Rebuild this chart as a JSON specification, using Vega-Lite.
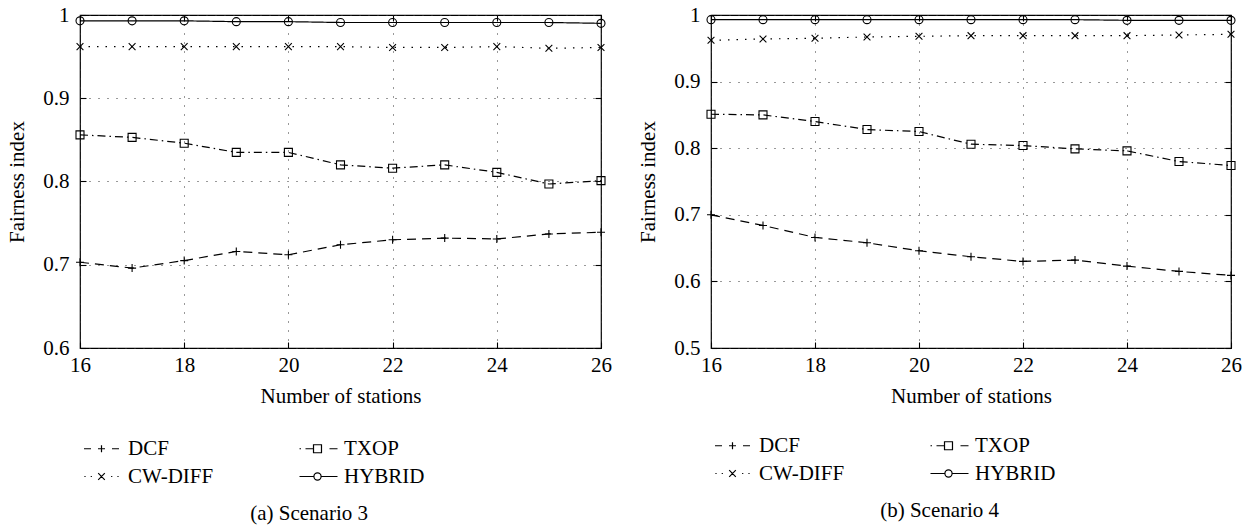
{
  "$schema": "https://vega.github.io/schema/vega-lite/v6.json",
  "background": "white",
  "padding": {"top": 3, "left": 6, "right": 10, "bottom": 2},
  "datasets": {
    "s3": [
      {"n": 16, "series": "DCF", "v": 0.703}, {"n": 17, "series": "DCF", "v": 0.696}, {"n": 18, "series": "DCF", "v": 0.705}, {"n": 19, "series": "DCF", "v": 0.716}, {"n": 20, "series": "DCF", "v": 0.712}, {"n": 21, "series": "DCF", "v": 0.724}, {"n": 22, "series": "DCF", "v": 0.730}, {"n": 23, "series": "DCF", "v": 0.732}, {"n": 24, "series": "DCF", "v": 0.731}, {"n": 25, "series": "DCF", "v": 0.737}, {"n": 26, "series": "DCF", "v": 0.739},
      {"n": 16, "series": "TXOP", "v": 0.856}, {"n": 17, "series": "TXOP", "v": 0.853}, {"n": 18, "series": "TXOP", "v": 0.846}, {"n": 19, "series": "TXOP", "v": 0.835}, {"n": 20, "series": "TXOP", "v": 0.835}, {"n": 21, "series": "TXOP", "v": 0.820}, {"n": 22, "series": "TXOP", "v": 0.816}, {"n": 23, "series": "TXOP", "v": 0.820}, {"n": 24, "series": "TXOP", "v": 0.811}, {"n": 25, "series": "TXOP", "v": 0.797}, {"n": 26, "series": "TXOP", "v": 0.801},
      {"n": 16, "series": "CW-DIFF", "v": 0.962}, {"n": 17, "series": "CW-DIFF", "v": 0.962}, {"n": 18, "series": "CW-DIFF", "v": 0.962}, {"n": 19, "series": "CW-DIFF", "v": 0.962}, {"n": 20, "series": "CW-DIFF", "v": 0.962}, {"n": 21, "series": "CW-DIFF", "v": 0.962}, {"n": 22, "series": "CW-DIFF", "v": 0.961}, {"n": 23, "series": "CW-DIFF", "v": 0.961}, {"n": 24, "series": "CW-DIFF", "v": 0.962}, {"n": 25, "series": "CW-DIFF", "v": 0.960}, {"n": 26, "series": "CW-DIFF", "v": 0.961},
      {"n": 16, "series": "HYBRID", "v": 0.993}, {"n": 17, "series": "HYBRID", "v": 0.993}, {"n": 18, "series": "HYBRID", "v": 0.993}, {"n": 19, "series": "HYBRID", "v": 0.992}, {"n": 20, "series": "HYBRID", "v": 0.992}, {"n": 21, "series": "HYBRID", "v": 0.991}, {"n": 22, "series": "HYBRID", "v": 0.991}, {"n": 23, "series": "HYBRID", "v": 0.991}, {"n": 24, "series": "HYBRID", "v": 0.991}, {"n": 25, "series": "HYBRID", "v": 0.991}, {"n": 26, "series": "HYBRID", "v": 0.990}
    ],
    "s4": [
      {"n": 16, "series": "DCF", "v": 0.700}, {"n": 17, "series": "DCF", "v": 0.684}, {"n": 18, "series": "DCF", "v": 0.666}, {"n": 19, "series": "DCF", "v": 0.658}, {"n": 20, "series": "DCF", "v": 0.646}, {"n": 21, "series": "DCF", "v": 0.637}, {"n": 22, "series": "DCF", "v": 0.630}, {"n": 23, "series": "DCF", "v": 0.632}, {"n": 24, "series": "DCF", "v": 0.623}, {"n": 25, "series": "DCF", "v": 0.615}, {"n": 26, "series": "DCF", "v": 0.609},
      {"n": 16, "series": "TXOP", "v": 0.851}, {"n": 17, "series": "TXOP", "v": 0.850}, {"n": 18, "series": "TXOP", "v": 0.840}, {"n": 19, "series": "TXOP", "v": 0.828}, {"n": 20, "series": "TXOP", "v": 0.825}, {"n": 21, "series": "TXOP", "v": 0.806}, {"n": 22, "series": "TXOP", "v": 0.804}, {"n": 23, "series": "TXOP", "v": 0.799}, {"n": 24, "series": "TXOP", "v": 0.796}, {"n": 25, "series": "TXOP", "v": 0.780}, {"n": 26, "series": "TXOP", "v": 0.774},
      {"n": 16, "series": "CW-DIFF", "v": 0.962}, {"n": 17, "series": "CW-DIFF", "v": 0.964}, {"n": 18, "series": "CW-DIFF", "v": 0.965}, {"n": 19, "series": "CW-DIFF", "v": 0.967}, {"n": 20, "series": "CW-DIFF", "v": 0.968}, {"n": 21, "series": "CW-DIFF", "v": 0.969}, {"n": 22, "series": "CW-DIFF", "v": 0.969}, {"n": 23, "series": "CW-DIFF", "v": 0.969}, {"n": 24, "series": "CW-DIFF", "v": 0.969}, {"n": 25, "series": "CW-DIFF", "v": 0.970}, {"n": 26, "series": "CW-DIFF", "v": 0.971},
      {"n": 16, "series": "HYBRID", "v": 0.993}, {"n": 17, "series": "HYBRID", "v": 0.993}, {"n": 18, "series": "HYBRID", "v": 0.993}, {"n": 19, "series": "HYBRID", "v": 0.993}, {"n": 20, "series": "HYBRID", "v": 0.993}, {"n": 21, "series": "HYBRID", "v": 0.993}, {"n": 22, "series": "HYBRID", "v": 0.993}, {"n": 23, "series": "HYBRID", "v": 0.993}, {"n": 24, "series": "HYBRID", "v": 0.992}, {"n": 25, "series": "HYBRID", "v": 0.992}, {"n": 26, "series": "HYBRID", "v": 0.992}
    ]
  },
  "hconcat": [
    {
      "width": 521, "height": 333,
      "data": {"name": "s3"},
      "title": {"text": "(a) Scenario 3", "orient": "bottom", "offset": 16, "anchor": "middle", "frame": "bounds"},
      "layer": [
        {
          "mark": {"type": "line", "color": "black", "strokeWidth": 1.2},
          "encoding": {
            "x": {"field": "n", "type": "quantitative", "scale": {"domain": [16, 26], "nice": false},
                  "axis": {"orient": "bottom", "values": [16, 18, 20, 22, 24, 26], "title": "Number of stations", "grid": true, "labelPadding": 12, "titlePadding": 10}},
            "y": {"field": "v", "type": "quantitative", "scale": {"domain": [0.6, 1], "nice": false, "zero": false},
                  "axis": {"orient": "left", "values": [0.6, 0.7, 0.8, 0.9, 1], "format": ".1~f", "title": "Fairness index", "grid": true, "labelPadding": 17, "titlePadding": 15}},
            "strokeDash": {"field": "series", "type": "nominal", "scale": {"domain": ["DCF", "TXOP", "CW-DIFF", "HYBRID"], "range": [[9, 6], [8, 4, 1.5, 4], [1.5, 7], [1, 0]]}, "legend": null}
          }
        },
        {
          "mark": {"type": "point", "filled": false, "color": "black", "strokeWidth": 1.1, "size": 64, "opacity": 1},
          "encoding": {
            "x": {"field": "n", "type": "quantitative", "axis": {"orient": "top", "values": [16, 18, 20, 22, 24, 26], "labels": false, "grid": false, "title": null}},
            "y": {"field": "v", "type": "quantitative", "axis": {"orient": "right", "values": [0.6, 0.7, 0.8, 0.9, 1], "labels": false, "grid": false, "title": null}},
            "shape": {"field": "series", "type": "nominal", "scale": {"domain": ["DCF", "TXOP", "CW-DIFF", "HYBRID"], "range": ["M-1,0H1M0,-1V1", "square", "M-0.85,-0.85L0.85,0.85M-0.85,0.85L0.85,-0.85", "circle"]}, "legend": null}
          }
        },
        {
          "transform": [{"filter": "false"}],
          "mark": {"type": "point", "filled": false, "color": "black", "strokeWidth": 1.2, "opacity": 1},
          "encoding": {
            "shape": {"field": "series", "type": "nominal",
              "scale": {"domain": ["DCF", "CW-DIFF", "TXOP", "HYBRID"], "range": [
                "M-5.83,0H-3.5M-1.17,0H1.17M0,-1.17V1.17M3.5,0H5.83",
                "M-5.7,0H-5.3M-3.6,0H-3.2M3.2,0H3.6M5.3,0H5.7M-1.1,-1.1L1.1,1.1M-1.1,1.1L1.1,-1.1",
                "M-6,0H-5.5M-4,0H-1.33M-1.33,-1.33H1.33V1.33H-1.33ZM4,0H6.67",
                "M-6,0H-1.2M1.2,0H6.67M-1.2,0A1.2,1.2,0,1,1,1.2,0A1.2,1.2,0,1,1,-1.2,0"
              ]},
              "legend": {"orient": "none", "legendX": 0, "legendY": 423, "columns": 2, "title": null, "symbolSize": 36, "symbolOffset": 11, "labelOffset": 16, "columnPadding": 82, "rowPadding": 6, "padding": 0}
            }
          }
        }
      ],
      "resolve": {"scale": {"shape": "independent"}, "axis": {"x": "independent", "y": "independent"}}
    },
    {
      "width": 520, "height": 333,
      "data": {"name": "s4"},
      "title": {"text": "(b) Scenario 4", "orient": "bottom", "offset": 16, "anchor": "middle", "frame": "bounds"},
      "layer": [
        {
          "mark": {"type": "line", "color": "black", "strokeWidth": 1.2},
          "encoding": {
            "x": {"field": "n", "type": "quantitative", "scale": {"domain": [16, 26], "nice": false},
                  "axis": {"orient": "bottom", "values": [16, 18, 20, 22, 24, 26], "title": "Number of stations", "grid": true, "labelPadding": 12, "titlePadding": 10}},
            "y": {"field": "v", "type": "quantitative", "scale": {"domain": [0.5, 1], "nice": false, "zero": false},
                  "axis": {"orient": "left", "values": [0.5, 0.6, 0.7, 0.8, 0.9, 1], "format": ".1~f", "title": "Fairness index", "grid": true, "labelPadding": 17, "titlePadding": 15}},
            "strokeDash": {"field": "series", "type": "nominal", "scale": {"domain": ["DCF", "TXOP", "CW-DIFF", "HYBRID"], "range": [[9, 6], [8, 4, 1.5, 4], [1.5, 7], [1, 0]]}, "legend": null}
          }
        },
        {
          "mark": {"type": "point", "filled": false, "color": "black", "strokeWidth": 1.1, "size": 64, "opacity": 1},
          "encoding": {
            "x": {"field": "n", "type": "quantitative", "axis": {"orient": "top", "values": [16, 18, 20, 22, 24, 26], "labels": false, "grid": false, "title": null}},
            "y": {"field": "v", "type": "quantitative", "axis": {"orient": "right", "values": [0.5, 0.6, 0.7, 0.8, 0.9, 1], "labels": false, "grid": false, "title": null}},
            "shape": {"field": "series", "type": "nominal", "scale": {"domain": ["DCF", "TXOP", "CW-DIFF", "HYBRID"], "range": ["M-1,0H1M0,-1V1", "square", "M-0.85,-0.85L0.85,0.85M-0.85,0.85L0.85,-0.85", "circle"]}, "legend": null}
          }
        },
        {
          "transform": [{"filter": "false"}],
          "mark": {"type": "point", "filled": false, "color": "black", "strokeWidth": 1.2, "opacity": 1},
          "encoding": {
            "shape": {"field": "series", "type": "nominal",
              "scale": {"domain": ["DCF", "CW-DIFF", "TXOP", "HYBRID"], "range": [
                "M-5.83,0H-3.5M-1.17,0H1.17M0,-1.17V1.17M3.5,0H5.83",
                "M-5.7,0H-5.3M-3.6,0H-3.2M3.2,0H3.6M5.3,0H5.7M-1.1,-1.1L1.1,1.1M-1.1,1.1L1.1,-1.1",
                "M-6,0H-5.5M-4,0H-1.33M-1.33,-1.33H1.33V1.33H-1.33ZM4,0H6.67",
                "M-6,0H-1.2M1.2,0H6.67M-1.2,0A1.2,1.2,0,1,1,1.2,0A1.2,1.2,0,1,1,-1.2,0"
              ]},
              "legend": {"orient": "none", "legendX": 0, "legendY": 420, "columns": 2, "title": null, "symbolSize": 36, "symbolOffset": 11, "labelOffset": 16, "columnPadding": 82, "rowPadding": 6, "padding": 0}
            }
          }
        }
      ],
      "resolve": {"scale": {"shape": "independent"}, "axis": {"x": "independent", "y": "independent"}}
    }
  ],
  "spacing": 24,
  "config": {
    "font": "Liberation Serif",
    "view": {"stroke": "black", "strokeWidth": 1.2},
    "axis": {
      "labelFont": "Liberation Serif", "labelFontSize": 21, "labelColor": "black",
      "titleFont": "Liberation Serif", "titleFontSize": 21, "titleFontWeight": "normal", "titleColor": "black",
      "tickColor": "black", "tickSize": -6, "tickWidth": 1.1, "domain": false,
      "gridColor": "#333333", "gridDash": [1, 8], "gridWidth": 1, "gridOpacity": 1,
      "labelFlush": false, "labelOverlap": false
    },
    "legend": {
      "labelFont": "Liberation Serif", "labelFontSize": 21, "labelColor": "black", "labelLimit": 300,
      "symbolStrokeColor": "black", "symbolStrokeWidth": 1.2, "symbolFillColor": "transparent"
    },
    "title": {"font": "Liberation Serif", "fontSize": 21, "fontWeight": "normal", "color": "black"}
  }
}
